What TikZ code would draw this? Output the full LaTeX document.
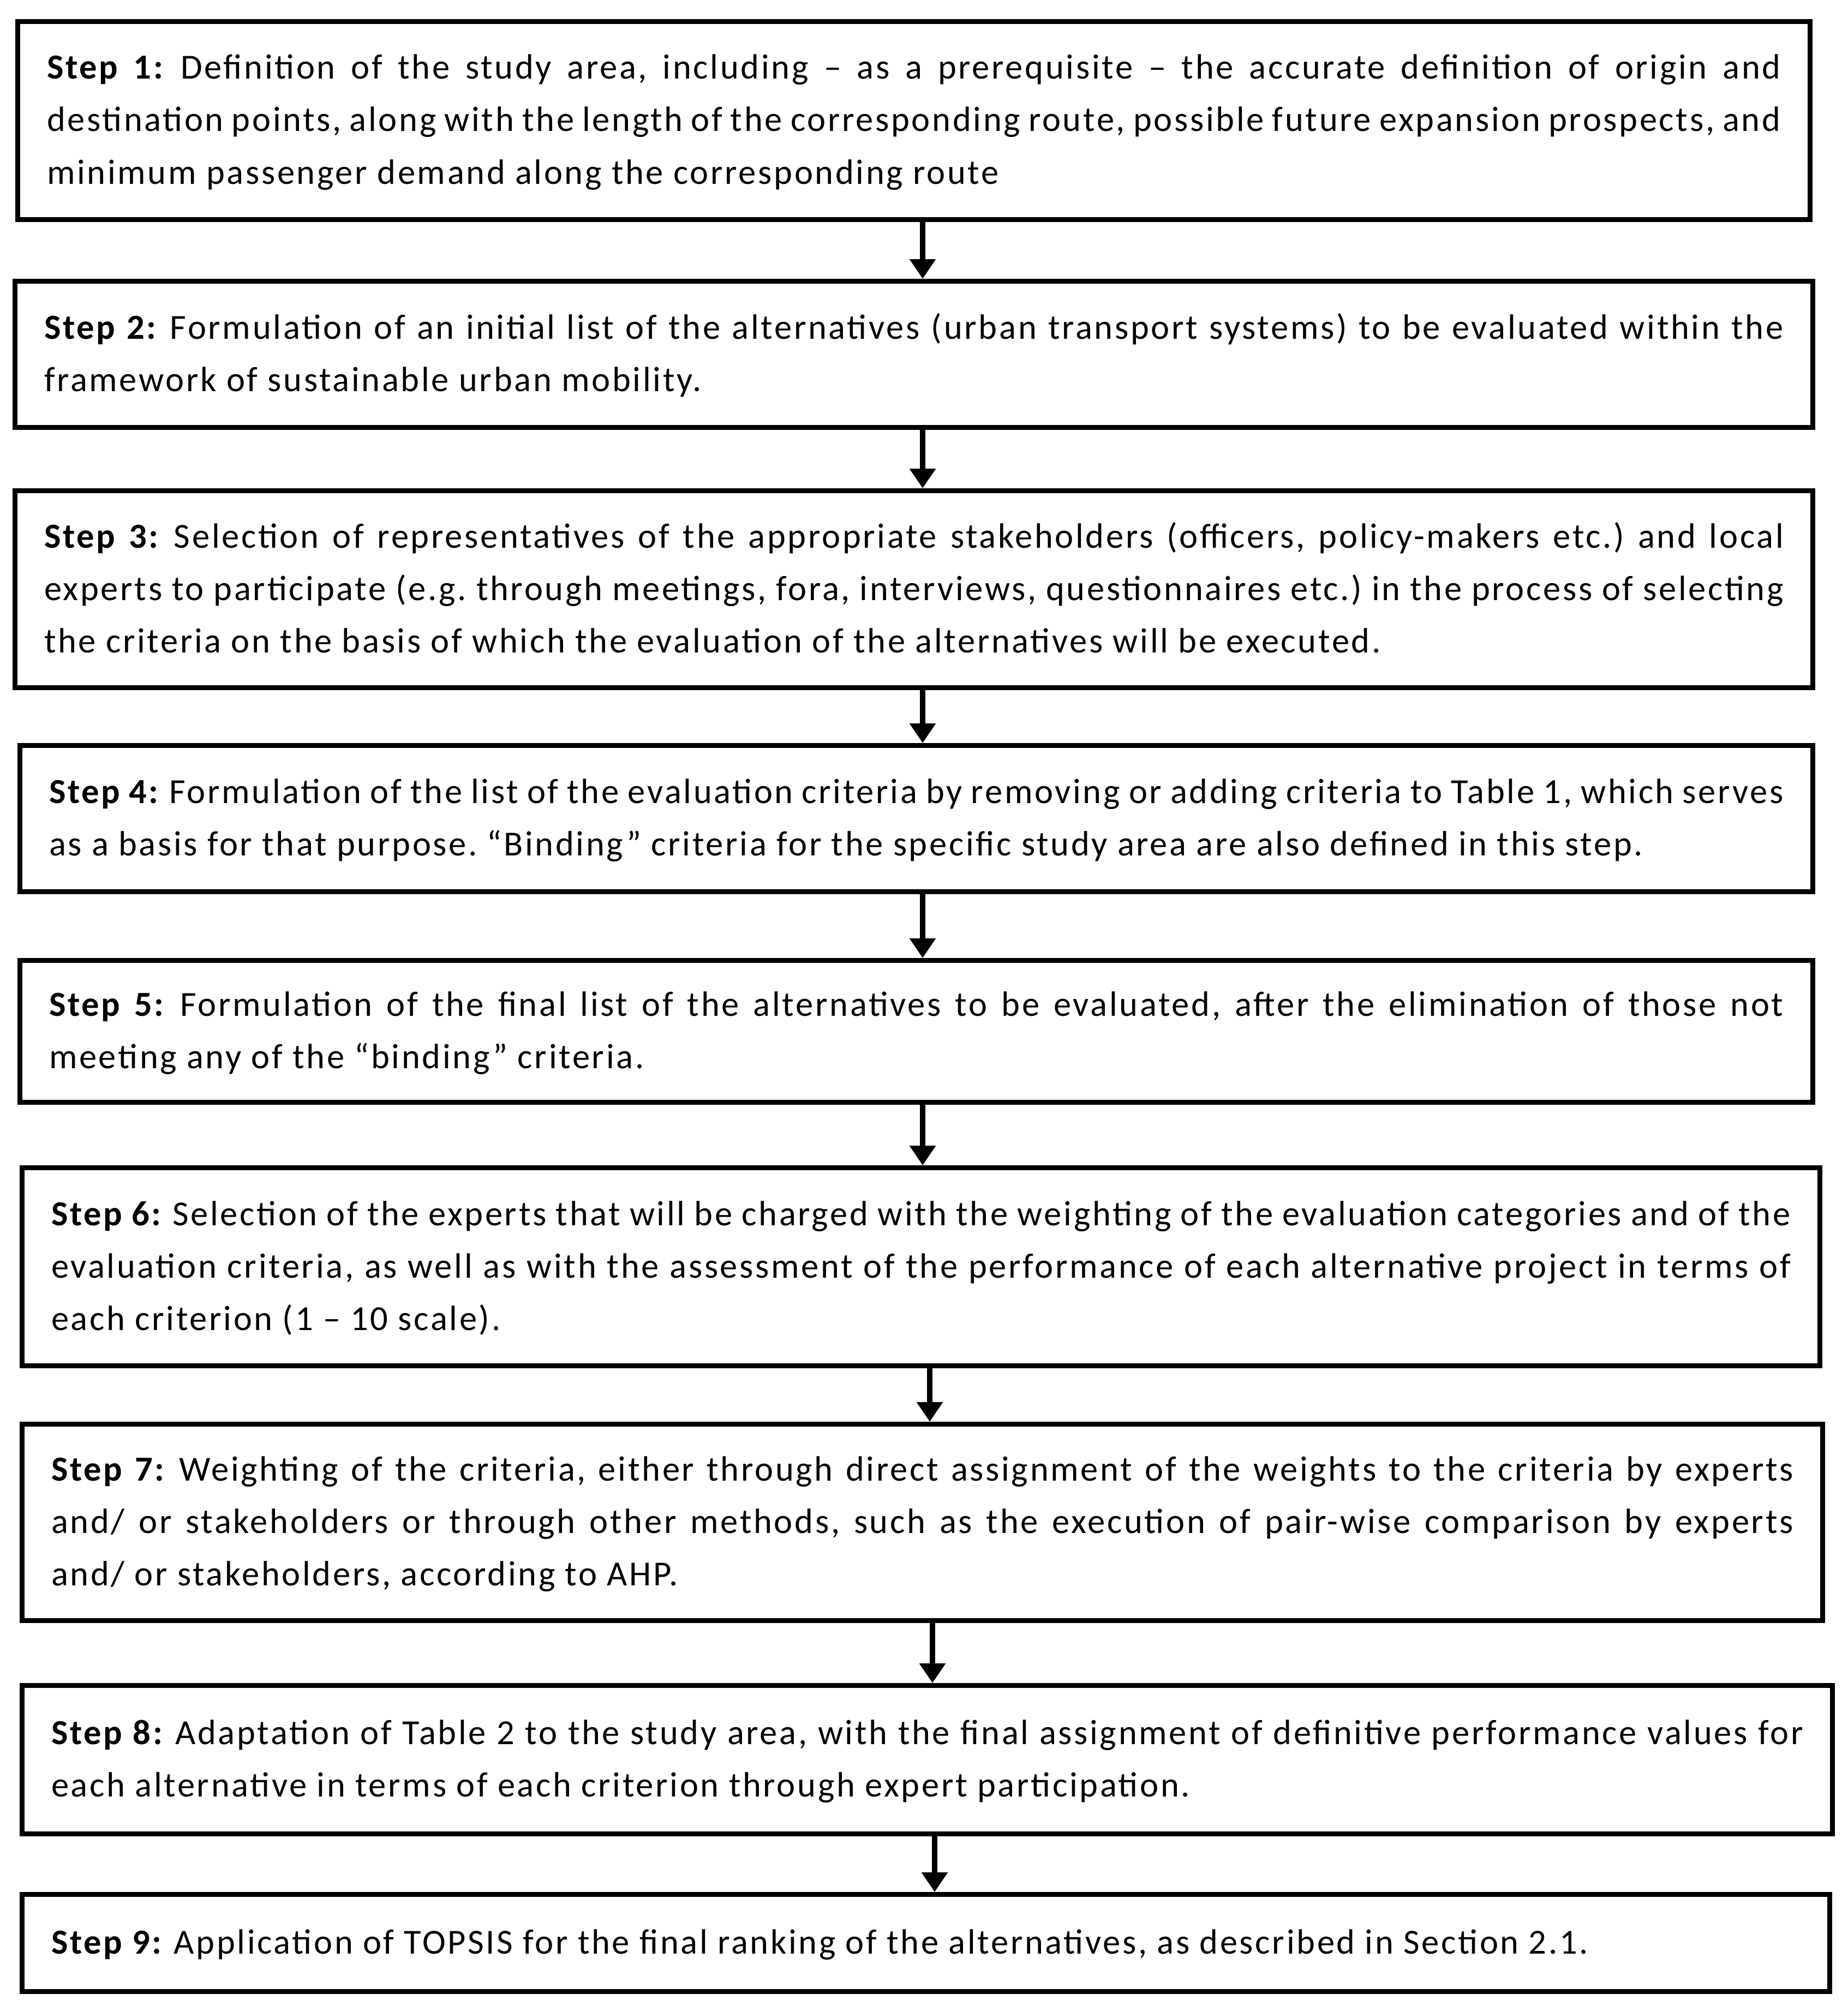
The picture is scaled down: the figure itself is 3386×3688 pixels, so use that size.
\documentclass[tikz,border=0pt]{standalone}
\usepackage{fontspec}
\setmainfont[LetterSpace=5.7]{Carlito}
\usetikzlibrary{arrows.meta}
\newcommand{\stepstrut}{\rule[-28pt]{0pt}{96pt}}
\newcommand{\stp}[1]{\textbf{Step #1:}}
\tikzset{
  stepbox/.style={draw=black, line width=9pt, rectangle, inner xsep=53.5pt, inner ysep=0pt,
    align=justify, font=\fontsize{64.5}{96}\selectfont\frenchspacing},
  flowarrow/.style={draw=black, line width=10pt, -{Triangle[width=46pt,length=36pt]}}
}
\begin{document}
\begin{tikzpicture}[x=1pt,y=-1pt]
\useasboundingbox[fill=white] (0,0) rectangle (3386,3688);
\hyphenpenalty=10000
\exhyphenpenalty=10000
\node[stepbox, minimum width=3285pt, minimum height=363pt, text width=3178pt] (b1) at (1675,221)
 {\stepstrut\stp{1} Definition of the study area, including -- as a prerequisite -- the accurate definition of origin and\linebreak destination points, along with the length of the corresponding route, possible future expansion prospects, and\linebreak minimum passenger demand along the corresponding route\stepstrut};
\node[stepbox, minimum width=3295pt, minimum height=268pt, text width=3188pt] (b2) at (1675,649.5)
 {\stepstrut\stp{2} Formulation of an initial list of the alternatives (urban transport systems) to be evaluated within the\linebreak framework of sustainable urban mobility.\stepstrut};
\node[stepbox, minimum width=3295pt, minimum height=361pt, text width=3188pt] (b3) at (1675,1080)
 {\stepstrut\stp{3} Selection of representatives of the appropriate stakeholders (officers, policy-makers etc.) and local\linebreak experts to participate (e.g. through meetings, fora, interviews, questionnaires etc.) in the process of selecting\linebreak the criteria on the basis of which the evaluation of the alternatives will be executed.\stepstrut};
\node[stepbox, minimum width=3286pt, minimum height=268pt, text width=3179pt] (b4) at (1679.5,1500.5)
 {\stepstrut\stp{4} Formulation of the list of the evaluation criteria by removing or adding criteria to Table 1, which serves\linebreak as a basis for that purpose. “Binding” criteria for the specific study area are also defined in this step.\stepstrut};
\node[stepbox, minimum width=3286pt, minimum height=260pt, text width=3179pt] (b5) at (1679.5,1890.5)
 {\stepstrut\stp{5} Formulation of the final list of the alternatives to be evaluated, after the elimination of those not\linebreak meeting any of the “binding” criteria.\stepstrut};
\node[stepbox, minimum width=3295pt, minimum height=363pt, text width=3188pt] (b6) at (1688,2322)
 {\stepstrut\stp{6} Selection of the experts that will be charged with the weighting of the evaluation categories and of the\linebreak evaluation criteria, as well as with the assessment of the performance of each alternative project in terms of\linebreak each criterion (1 -- 10 scale).\stepstrut};
\node[stepbox, minimum width=3300pt, minimum height=360pt, text width=3193pt] (b7) at (1690.5,2790.5)
 {\stepstrut\stp{7} Weighting of the criteria, either through direct assignment of the weights to the criteria by experts\linebreak and/ or stakeholders or through other methods, such as the execution of pair-wise comparison by experts\linebreak and/ or stakeholders, according to AHP.\stepstrut};
\node[stepbox, minimum width=3318pt, minimum height=272pt, text width=3211pt] (b8) at (1699.5,3225.5)
 {\stepstrut\stp{8} Adaptation of Table 2 to the study area, with the final assignment of definitive performance values for\linebreak each alternative in terms of each criterion through expert participation.\stepstrut};
\node[stepbox, minimum width=3313pt, minimum height=178pt, text width=3206pt] (b9) at (1697,3561.5)
 {\stepstrut\stp{9} Application of TOPSIS for the final ranking of the alternatives, as described in Section 2.1.\stepstrut};
\coordinate (xa) at (1691,0);
\coordinate (xb) at (1704,0);
\coordinate (xc) at (1709,0);
\coordinate (xd) at (1713,0);
\draw[flowarrow] (b1.south -| xa) -- (b2.north -| xa);
\draw[flowarrow] (b2.south -| xa) -- (b3.north -| xa);
\draw[flowarrow] (b3.south -| xa) -- (b4.north -| xa);
\draw[flowarrow] (b4.south -| xa) -- (b5.north -| xa);
\draw[flowarrow] (b5.south -| xa) -- (b6.north -| xa);
\draw[flowarrow] (b6.south -| xb) -- (b7.north -| xb);
\draw[flowarrow] (b7.south -| xc) -- (b8.north -| xc);
\draw[flowarrow] (b8.south -| xd) -- (b9.north -| xd);
\end{tikzpicture}
\end{document}
